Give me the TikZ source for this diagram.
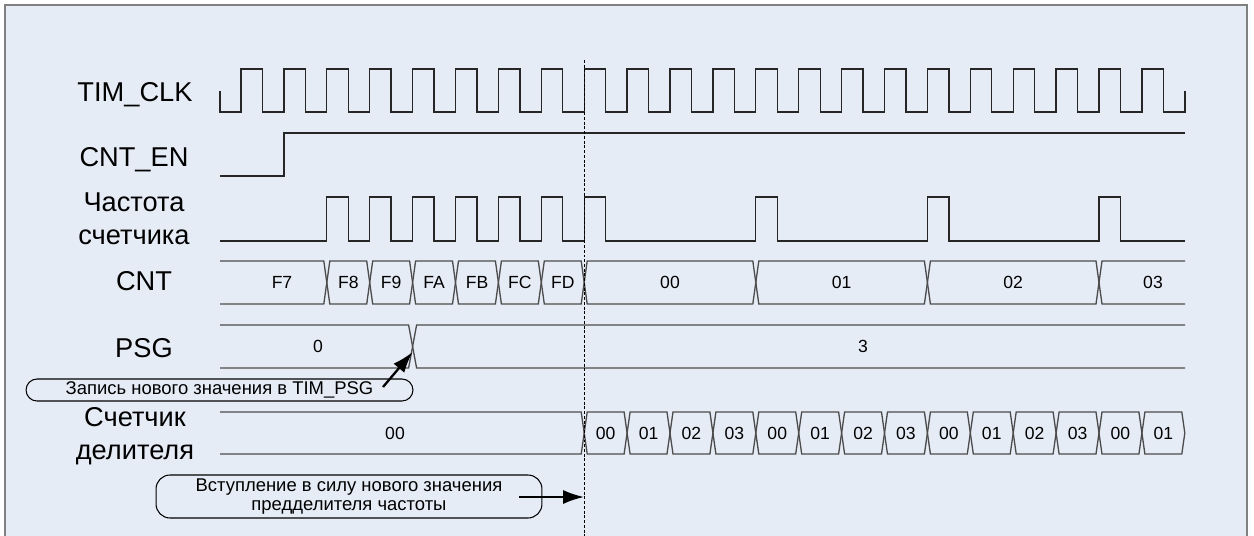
\documentclass[tikz,border=0pt]{standalone}
\usepackage{fontspec}
\setmainfont{Liberation Sans}
\usetikzlibrary{arrows.meta}
\definecolor{bgc}{RGB}{230,236,246}

\begin{document}
\begin{tikzpicture}[
    x=0.02cm, y=-0.02cm,
    sig/.style={draw=black!85, line width=0.75pt},
    bus/.style={draw=black!70, line width=0.75pt},
    lbl/.style={font=\fontsize{15.5}{18.8}\selectfont, align=center, inner sep=0pt},
    val/.style={font=\fontsize{10}{11}\selectfont, inner sep=0pt},
    remark/.style={draw, line width=0.6pt, rounded corners=0.22cm, align=center, inner sep=0pt, font=\fontsize{10.5}{10.7}\selectfont},
    ptr/.style={-{Latex[length=12pt,width=8pt]}, line width=1.3pt}
]
\useasboundingbox (0,0) rectangle (1254,535);
\draw[fill=bgc, draw=black!50, line width=1.1pt] (5,5) rectangle (1247,560);

% подписи строк
\node[lbl, anchor=base] (clk)  at (135,101) {TIM\_CLK};
\node[lbl, anchor=base] (en)   at (134,166) {CNT\_EN};
\node[lbl]              (frq)  at (134,219) {Частота\\счетчика};
\node[lbl, anchor=base] (cnt)  at (144,290) {CNT};
\node[lbl, anchor=base] (psg)  at (144,357) {PSG};
\node[lbl]              (div)  at (135,436) {Счетчик\\делителя};

% тактовый сигнал
\draw[sig] (220,91) -- (220,112)
    \foreach \k in {0,...,21} { -- ({241+42.9*\k},112) -- ++(0,-43) -- ++(21.45,0) -- ++(0,43) }
    -- (1185,112) -- (1185,91);

% CNT_EN
\draw[sig] (220,176) -- (283.9,176) -- (283.9,133) -- (1185,133);

% частота счетчика
\draw[sig] (220,241)
    \foreach \k in {2,3,4,5,6,7,8,12,16,20} { -- ({241+42.9*\k},241) -- ++(0,-44) -- ++(21.45,0) -- ++(0,44) }
    -- (1185,241);

% CNT
\draw[bus] (220,261) -- (323.8,261) -- (326.8,282.5) -- (323.8,304) -- (220,304);
\foreach \a/\b in {326.8/369.7, 369.7/412.6, 412.6/455.5, 455.5/498.4, 498.4/541.3,
                   541.3/584.2, 584.2/755.8, 755.8/927.4, 927.4/1099}
    \draw[bus] (\a,282.5) -- (\a+3,261) -- (\b-3,261) -- (\b,282.5) -- (\b-3,304) -- (\a+3,304) -- cycle;
\draw[bus] (1185,261) -- (1102,261) -- (1099,282.5) -- (1102,304) -- (1185,304);
\foreach \x/\v [count=\i] in {282/F7, 348.3/F8, 391.2/F9, 434.1/FA, 477/FB, 519.9/FC,
                              562.8/FD, 670/00, 841.6/01, 1013.2/02, 1153/03}
    \node[val] (cnt\i) at (\x,282.5) {\v};

% PSG
\draw[bus] (220,325) -- (408.6,325) -- (412.6,346.5) -- (408.6,368) -- (220,368);
\draw[bus] (1185,325) -- (416.6,325) -- (412.6,346.5) -- (416.6,368) -- (1185,368);
\node[val] (psg0) at (318,346.5) {0};
\node[val] (psg3) at (863,346.5) {3};

% счетчик делителя
\draw[bus] (220,412) -- (581.2,412) -- (584.2,433) -- (581.2,454) -- (220,454);
\node[val] (div0) at (395,433) {00};
\foreach \v [count=\k from 8] in {00,01,02,03,00,01,02,03,00,01,02,03,00,01} {
    \draw[bus] ({241+42.9*\k},433) -- ++(3,-21) -- ({238+42.9*(\k+1)},412) -- ++(3,21)
               -- ++(-3,21) -- ({244+42.9*\k},454) -- cycle;
    \node[val] (div\k) at ({262.45+42.9*\k},433) {\v};
}

% момент вступления в силу
\draw[black, line width=0.55pt, dash pattern=on 1.7pt off 1pt] (584.2,60) -- (584.2,540);

% пояснения
\node[remark, minimum width=7.74cm, minimum height=0.44cm] (wr) at (219.5,390)
    {Запись нового значения в TIM\_PSG};
\node[remark, minimum width=7.72cm, minimum height=0.86cm, rounded corners=0.28cm] (eff) at (349,496.5)
    {Вступление в силу нового значения\\предделителя частоты};
\coordinate (wr-tail)  at (383,387);
\coordinate (psg-x)    at (412.6,352);
\coordinate (eff-tail) at (519,497);
\coordinate (eff-x)    at (584.2,497);
\draw[ptr] (wr-tail) -- (psg-x);
\draw[ptr] (eff-tail) -- (eff-x);

\end{tikzpicture}
\end{document}
